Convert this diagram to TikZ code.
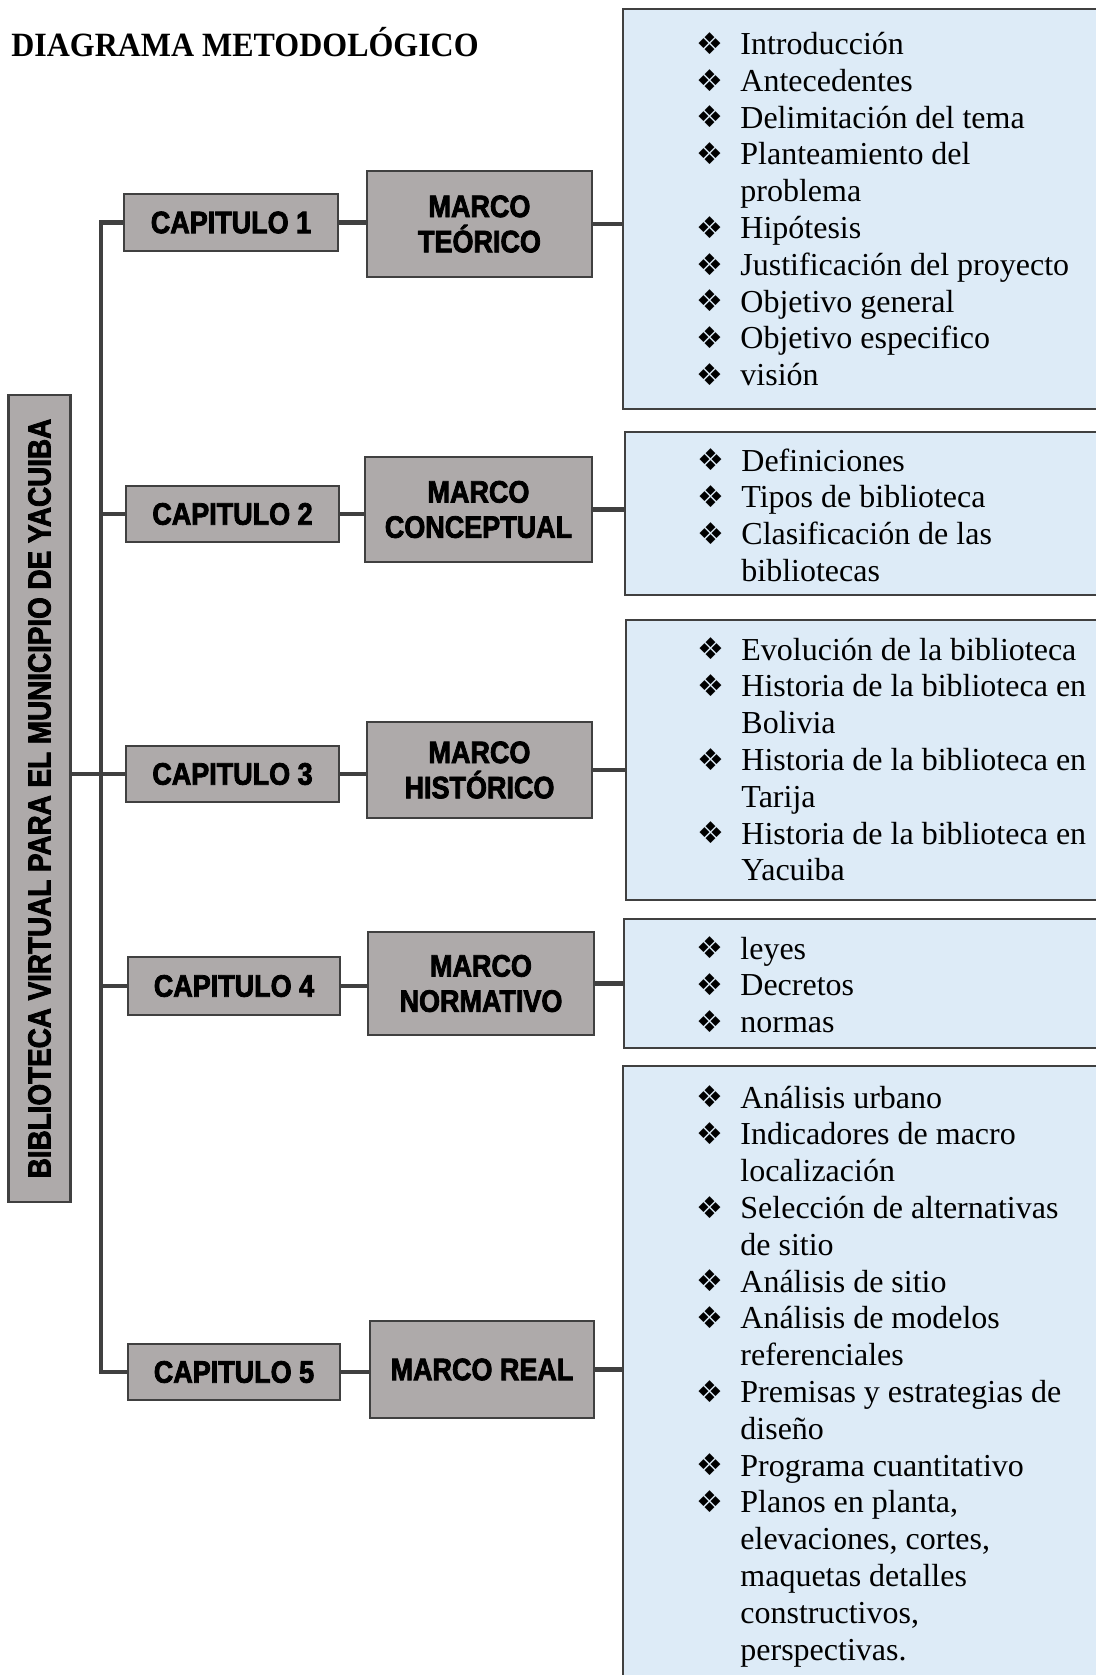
\documentclass[tikz,border=0pt]{standalone}
\usepackage{fontspec}
\setmainfont{Liberation Serif}
\newfontfamily\titlefont{Liberation Serif}[FakeStretch=0.94]
\newfontfamily\boxfont{Liberation Sans}[FakeStretch=0.87,FakeBold=2.5]
\newfontfamily\bulfont{DejaVu Sans}
\definecolor{boxgray}{HTML}{AEAAAA}
\definecolor{edgegray}{HTML}{404040}
\definecolor{listblue}{HTML}{DDEBF7}
\newcommand\bul{\makebox[22pt][l]{\raisebox{\dimexpr5.5pt-0.5\height+0.5\depth\relax}{\bulfont\fontsize{15}{15}\selectfont ❖}}}
\newcommand\itm[1]{\hbox{\bul#1}}
\newcommand\cnt[1]{\hbox{\hspace*{22pt}#1}}
\newcommand\lst[1]{\vtop{\fontsize{16}{18.4}\selectfont\baselineskip=18.4pt #1}}
\tikzset{
  gbox/.style={draw=edgegray, line width=1.3pt, fill=boxgray, inner sep=0pt, align=center,
    font=\boxfont\bfseries\fontsize{15.5}{17.6}\selectfont},
  lbox/.style={draw=edgegray, line width=1.3pt, fill=listblue, inner sep=0pt},
  conn/.style={draw=edgegray, line width=2.2pt},
  ltext/.style={anchor=base west, inner sep=0pt}
}
\begin{document}
\begin{tikzpicture}[x=0.5pt,y=-0.5pt]
\useasboundingbox (0,0) rectangle (1096,1675);
\clip (0,0) rectangle (1096,1675);
\fill[white] (0,0) rectangle (1096,1675);

\node[anchor=base west, inner sep=0pt, font=\titlefont\bfseries\fontsize{17}{20}\selectfont] (title) at (11,56.6) {DIAGRAMA METODOLÓGICO};

% root
\node[gbox, rotate=90, minimum width=403.5pt, minimum height=31pt,
  font=\boxfont\bfseries\fontsize{16}{18}\selectfont] (root) at (39.5,798.5)
  {BIBLIOTECA VIRTUAL PARA EL MUNICIPIO DE YACUIBA};

% chapters
\node[gbox, minimum width=107pt, minimum height=28.5pt] (c1) at (231,222.5) {CAPITULO 1};
\node[gbox, minimum width=106.5pt, minimum height=28pt] (c2) at (232.5,514) {CAPITULO 2};
\node[gbox, minimum width=106.5pt, minimum height=28pt] (c3) at (232.5,774) {CAPITULO 3};
\node[gbox, minimum width=106pt, minimum height=29pt] (c4) at (234,986) {CAPITULO 4};
\node[gbox, minimum width=106pt, minimum height=28pt] (c5) at (234,1372) {CAPITULO 5};

% marcos
\node[gbox, minimum width=112.5pt, minimum height=53pt] (mt) at (479.5,224) {MARCO\\TEÓRICO};
\node[gbox, minimum width=113.5pt, minimum height=52.5pt] (mc) at (478.5,509.5) {MARCO\\CONCEPTUAL};
\node[gbox, minimum width=112.5pt, minimum height=48pt] (mh) at (479.5,770) {MARCO\\HISTÓRICO};
\node[gbox, minimum width=113pt, minimum height=51.5pt] (mn) at (481,983.5) {MARCO\\NORMATIVO};
\node[gbox, minimum width=112pt, minimum height=48.5pt] (mr) at (482,1369.5) {MARCO REAL};

% list boxes
\node[lbox, minimum width=243.5pt, minimum height=200pt] (l1) at (866.5,209) {};
\node[lbox, minimum width=242.5pt, minimum height=81.5pt] (l2) at (867.5,513.5) {};
\node[lbox, minimum width=242pt, minimum height=140pt] (l3) at (868,760) {};
\node[lbox, minimum width=243pt, minimum height=64.5pt] (l4) at (867,983.5) {};
\node[lbox, minimum width=243.5pt, minimum height=317pt] (l5) at (866.5,1383) {};

% list texts
\node[ltext] (t1) at (696,54.5) {\lst{%
  \itm{Introducción}\itm{Antecedentes}\itm{Delimitación del tema}%
  \itm{Planteamiento del}\cnt{problema}\itm{Hipótesis}%
  \itm{Justificación del proyecto}\itm{Objetivo general}%
  \itm{Objetivo especifico}\itm{visión}}};
\node[ltext] (t2) at (697,471) {\lst{%
  \itm{Definiciones}\itm{Tipos de biblioteca}%
  \itm{Clasificación de las}\cnt{bibliotecas}}};
\node[ltext] (t3) at (697,660) {\lst{%
  \itm{Evolución de la biblioteca}%
  \itm{Historia de la biblioteca en}\cnt{Bolivia}%
  \itm{Historia de la biblioteca en}\cnt{Tarija}%
  \itm{Historia de la biblioteca en}\cnt{Yacuiba}}};
\node[ltext] (t4) at (696,959) {\lst{%
  \itm{leyes}\itm{Decretos}\itm{normas}}};
\node[ltext] (t5) at (696,1108) {\lst{%
  \itm{Análisis urbano}%
  \itm{Indicadores de macro}\cnt{localización}%
  \itm{Selección de alternativas}\cnt{de sitio}%
  \itm{Análisis de sitio}%
  \itm{Análisis de modelos}\cnt{referenciales}%
  \itm{Premisas y estrategias de}\cnt{diseño}%
  \itm{Programa cuantitativo}%
  \itm{Planos en planta,}\cnt{elevaciones, cortes,}\cnt{maquetas detalles}%
  \cnt{constructivos,}\cnt{perspectivas.}}};

% connectors
\draw[conn] (c1.west) -- ++(-22,0) coordinate (sp) |- (c5.west);
\draw[conn] (c2.west) -- (c2.west -| sp);
\draw[conn] (c4.west) -- (c4.west -| sp);
\draw[conn] (root.south |- c3.west) -- (c3.west);

\draw[conn] (c1.east) -- (c1.east -| mt.west);
\draw[conn] (c2.east) -- (c2.east -| mc.west);
\draw[conn] (c3.east) -- (c3.east -| mh.west);
\draw[conn] (c4.east) -- (c4.east -| mn.west);
\draw[conn] (c5.east) -- (c5.east -| mr.west);

\draw[conn] (mt.east) -- (mt.east -| l1.west);
\draw[conn] (mc.east) -- (mc.east -| l2.west);
\draw[conn] (mh.east) -- (mh.east -| l3.west);
\draw[conn] (mn.east) -- (mn.east -| l4.west);
\draw[conn] (mr.east) -- (mr.east -| l5.west);
\end{tikzpicture}
\end{document}
